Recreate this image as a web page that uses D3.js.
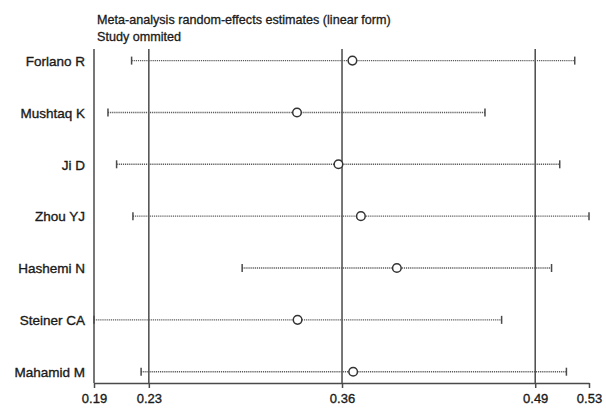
<!DOCTYPE html>
<html>
<head>
<meta charset="utf-8">
<script src="https://cdn.jsdelivr.net/npm/d3@7"></script>
<style>
  body { margin: 0; background: #fff; }
  svg { display: block; font-family: "Liberation Sans", Arial, sans-serif; }
</style>
</head>
<body>
<div id="chart"></div>
<script>
// Study omitted (leave-one-out) data
const studies = ["Forlano R", "Mushtaq K", "Ji D", "Zhou YJ", "Hashemi N", "Steiner CA", "Mahamid M"];
const estimates = [0.3670, 0.3297, 0.3576, 0.3727, 0.3969, 0.3301, 0.3675];
const lowerCI = [0.2184, 0.2025, 0.2083, 0.2193, 0.2928, 0.1931, 0.2248];
const upperCI = [0.5166, 0.4562, 0.5065, 0.5262, 0.5010, 0.4674, 0.5110];

// overall estimate and its CI (vertical lines)
const refLines = [0.23, 0.36, 0.49];
const tickValues = [0.1931, 0.23, 0.36, 0.49, 0.5262];
const tickLabels = ["0.19", "0.23", "0.36", "0.49", "0.53"];

const titleLines = ["Meta-analysis random-effects estimates (linear form)", "Study ommited"];

const data = studies.map((s, i) => ({
    study: s,
    est: estimates[i],
    lo: lowerCI[i],
    hi: upperCI[i]
}));

const drawChart = (data) => {
    const width = 606;
    const height = 410;
    const margin = { top: 49, right: 17, bottom: 27, left: 94 };
    const innerWidth = width - margin.left - margin.right;
    const innerHeight = height - margin.top - margin.bottom;

    const ink = "#1a1a1a";
    const lineCol = "#4a4a4a";
    const dotCol = "#5a5a5a";

    const xScale = d3.scaleLinear()
        .domain([tickValues[0], tickValues[tickValues.length - 1]])
        .range([0, innerWidth]);

    const yScale = d3.scalePoint()
        .domain(studies)
        .range([11.6, 322.7]);

    const svg = d3.select("#chart")
        .append("svg")
        .attr("width", width)
        .attr("height", height)
        .attr("viewBox", `0 0 ${width} ${height}`);

    // title
    svg.append("g")
        .selectAll("text")
        .data(titleLines)
        .join("text")
            .attr("x", 97)
            .attr("y", (d, i) => 24 + i * 16.5)
            .attr("font-size", 12.6)
            .attr("fill", ink)
            .attr("stroke", ink)
            .attr("stroke-width", 0.3)
            .text(d => d);

    const inner = svg.append("g")
        .attr("transform", `translate(${margin.left},${margin.top})`);

    // x axis
    const bottomAxis = d3.axisBottom(xScale)
        .tickValues(tickValues)
        .tickFormat((d, i) => tickLabels[i])
        .tickSize(5)
        .tickSizeOuter(0)
        .tickPadding(6);

    const xAxis = inner.append("g")
        .attr("transform", `translate(0,${innerHeight})`)
        .call(bottomAxis);
    xAxis.select(".domain").attr("stroke", lineCol).attr("stroke-width", 1.5);
    xAxis.selectAll(".tick line").attr("stroke", lineCol).attr("stroke-width", 1.5);
    xAxis.selectAll(".tick text")
        .attr("font-size", 13)
        .attr("font-family", "Liberation Sans, Arial, sans-serif")
        .attr("fill", ink)
        .attr("stroke", ink)
        .attr("stroke-width", 0.35);

    // study labels (no ticks)
    const leftAxis = d3.axisLeft(yScale).tickSize(0).tickPadding(9).tickSizeOuter(0);
    const yAxis = inner.append("g").call(leftAxis);
    yAxis.select(".domain").remove();
    yAxis.selectAll(".tick text")
        .attr("font-size", 13.5)
        .attr("font-family", "Liberation Sans, Arial, sans-serif")
        .attr("fill", ink)
        .attr("stroke", ink)
        .attr("stroke-width", 0.35)
        .attr("dy", "0.35em");

    inner.append("line")
        .attr("x1", 0).attr("x2", 0)
        .attr("y1", 0).attr("y2", innerHeight)
        .attr("stroke", lineCol)
        .attr("stroke-width", 1.5);

    // reference lines
    inner.selectAll(".ref")
        .data(refLines)
        .join("line")
            .attr("class", "ref")
            .attr("x1", d => xScale(d))
            .attr("x2", d => xScale(d))
            .attr("y1", 0)
            .attr("y2", innerHeight)
            .attr("stroke", lineCol)
            .attr("stroke-width", 1.5);

    // CI lines
    inner.selectAll(".ci")
        .data(data)
        .join("line")
            .attr("class", "ci")
            .attr("x1", d => xScale(d.lo))
            .attr("x2", d => xScale(d.hi))
            .attr("y1", d => yScale(d.study))
            .attr("y2", d => yScale(d.study))
            .attr("stroke", dotCol)
            .attr("stroke-width", 1.4)
            .attr("stroke-dasharray", "1.2,0.9");

    // end caps
    const caps = data.flatMap(d => [{ study: d.study, v: d.lo }, { study: d.study, v: d.hi }]);
    inner.selectAll(".cap")
        .data(caps)
        .join("line")
            .attr("class", "cap")
            .attr("x1", d => xScale(d.v))
            .attr("x2", d => xScale(d.v))
            .attr("y1", d => yScale(d.study) - 4)
            .attr("y2", d => yScale(d.study) + 4)
            .attr("stroke", lineCol)
            .attr("stroke-width", 1.5);

    // point estimates
    inner.selectAll(".est")
        .data(data)
        .join("circle")
            .attr("class", "est")
            .attr("cx", d => xScale(d.est))
            .attr("cy", d => yScale(d.study))
            .attr("r", 4.3)
            .attr("fill", "#fff")
            .attr("stroke", "#333")
            .attr("stroke-width", 1.5);
};

drawChart(data);
</script>
</body>
</html>
